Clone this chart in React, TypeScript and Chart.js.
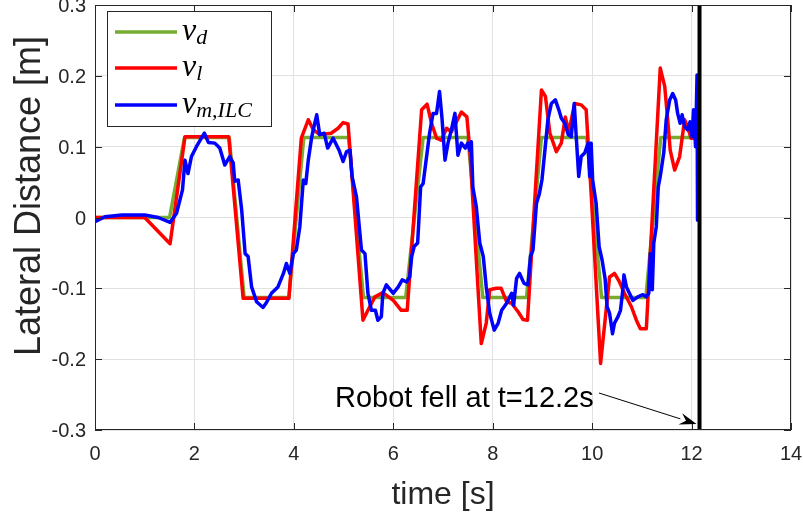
import React, { useEffect, useRef } from 'react';
import { Chart, registerables } from 'chart.js';

Chart.register(...registerables);

const xTickValues = [0, 2, 4, 6, 8, 10, 12, 14];
const yTickValues = [-0.3, -0.2, -0.1, 0, 0.1, 0.2, 0.3];

const vdTime = [0, 1.5, 1.8, 2.7, 3.0, 3.9, 4.2, 5.1, 5.4, 6.25, 6.6, 7.5, 7.8, 8.68, 8.98, 9.89, 10.19, 11.08, 11.38, 12.12];
const vdValue = [0, 0, 0.113, 0.113, -0.113, -0.113, 0.113, 0.113, -0.113, -0.113, 0.113, 0.113, -0.113, -0.113, 0.113, 0.113, -0.113, -0.113, 0.113, 0.113];

const vlTime = [0, 1.0, 1.51, 1.81, 2.69, 2.98, 3.9, 4.15, 4.29, 4.39, 4.52, 4.75, 4.89, 4.99, 5.09, 5.39, 5.49, 5.63, 5.79, 6.0, 6.16, 6.28, 6.57, 6.68, 6.77, 6.87, 6.97, 7.07, 7.17, 7.37, 7.48, 7.54, 7.77, 7.87, 7.94, 8.07, 8.17, 8.28, 8.38, 8.51, 8.61, 8.7, 8.98, 9.06, 9.15, 9.28, 9.38, 9.46, 9.53, 9.65, 9.78, 9.88, 9.98, 10.17, 10.35, 10.45, 10.55, 10.65, 10.79, 10.89, 10.97, 11.09, 11.37, 11.46, 11.52, 11.57, 11.66, 11.76, 11.86, 11.92, 11.99, 12.1];
const vlValue = [0, 0, -0.037, 0.114, 0.114, -0.114, -0.114, 0.112, 0.138, 0.124, 0.117, 0.119, 0.126, 0.134, 0.132, -0.145, -0.131, -0.112, -0.106, -0.117, -0.131, -0.131, 0.152, 0.16, 0.133, 0.112, 0.109, 0.126, 0.121, 0.149, 0.142, 0.095, -0.178, -0.149, -0.102, -0.1, -0.1, -0.119, -0.121, -0.133, -0.144, -0.145, 0.18, 0.171, 0.119, 0.093, 0.105, 0.142, 0.121, 0.161, 0.159, 0.152, 0.034, -0.206, -0.084, -0.079, -0.091, -0.107, -0.126, -0.145, -0.157, -0.157, 0.211, 0.185, 0.138, 0.095, 0.067, 0.086, 0.138, 0.128, 0.112, 0.112];

const vmTime = [0, 0.2, 0.54, 1.0, 1.27, 1.51, 1.64, 1.76, 1.81, 1.87, 1.94, 2.04, 2.14, 2.2, 2.28, 2.41, 2.51, 2.61, 2.71, 2.78, 2.81, 2.88, 2.95, 3.02, 3.08, 3.15, 3.25, 3.38, 3.45, 3.55, 3.68, 3.79, 3.85, 3.92, 3.99, 4.05, 4.12, 4.19, 4.24, 4.29, 4.36, 4.42, 4.46, 4.52, 4.61, 4.68, 4.79, 4.91, 4.99, 5.06, 5.13, 5.17, 5.26, 5.36, 5.43, 5.49, 5.56, 5.64, 5.69, 5.76, 5.79, 5.86, 6.0, 6.1, 6.18, 6.27, 6.33, 6.37, 6.42, 6.49, 6.55, 6.6, 6.67, 6.73, 6.8, 6.87, 6.93, 6.98, 7.04, 7.1, 7.17, 7.24, 7.3, 7.37, 7.45, 7.5, 7.54, 7.57, 7.6, 7.67, 7.74, 7.81, 7.87, 7.94, 8.03, 8.11, 8.18, 8.28, 8.38, 8.42, 8.48, 8.54, 8.63, 8.71, 8.76, 8.81, 8.88, 8.94, 8.99, 9.05, 9.11, 9.18, 9.26, 9.33, 9.38, 9.45, 9.52, 9.58, 9.64, 9.68, 9.73, 9.78, 9.85, 9.92, 9.95, 9.98, 10.01, 10.08, 10.14, 10.2, 10.26, 10.3, 10.35, 10.41, 10.45, 10.52, 10.57, 10.61, 10.64, 10.69, 10.75, 10.82, 10.92, 11.02, 11.09, 11.14, 11.17, 11.21, 11.24, 11.29, 11.33, 11.37, 11.44, 11.49, 11.56, 11.62, 11.68, 11.72, 11.77, 11.81, 11.86, 11.92, 11.97, 12.01, 12.04, 12.08, 12.11, 12.12];
const vmValue = [-0.006, 0.001, 0.0035, 0.0035, 0, -0.007, 0.006, 0.039, 0.081, 0.062, 0.086, 0.1, 0.112, 0.119, 0.106, 0.105, 0.098, 0.074, 0.086, 0.077, 0.051, 0.053, 0.011, -0.051, -0.055, -0.098, -0.119, -0.127, -0.12, -0.107, -0.098, -0.079, -0.065, -0.079, -0.051, -0.046, -0.013, 0.053, 0.048, 0.081, 0.114, 0.133, 0.145, 0.117, 0.119, 0.098, 0.112, 0.095, 0.079, 0.093, 0.095, 0.058, 0.029, -0.046, -0.051, -0.107, -0.131, -0.131, -0.145, -0.14, -0.107, -0.095, -0.107, -0.098, -0.088, -0.091, -0.084, -0.055, -0.041, -0.036, 0.043, 0.048, 0.086, 0.119, 0.147, 0.147, 0.178, 0.14, 0.081, 0.105, 0.124, 0.147, 0.088, 0.105, 0.098, 0.105, 0.095, 0.107, 0.043, 0.015, -0.036, -0.055, -0.098, -0.135, -0.159, -0.149, -0.131, -0.121, -0.107, -0.124, -0.086, -0.079, -0.093, -0.095, -0.055, -0.046, 0.02, 0.034, 0.053, 0.095, 0.138, 0.161, 0.166, 0.152, 0.14, 0.133, 0.117, 0.114, 0.161, 0.114, 0.058, 0.086, 0.091, 0.105, 0.058, 0.105, 0.053, 0.02, -0.041, -0.06, -0.086, -0.126, -0.135, -0.164, -0.149, -0.14, -0.131, -0.107, -0.081, -0.098, -0.107, -0.117, -0.112, -0.109, -0.112, -0.107, -0.051, -0.102, -0.036, -0.013, 0.043, 0.058, 0.091, 0.138, 0.166, 0.175, 0.166, 0.147, 0.133, 0.145, 0.128, 0.124, 0.135, 0.114, 0.152, 0.1, 0.201, -0.004];

const fallTime = 12.16;
const fallLineY = [-0.3, 0.3];

const seriesNames = ['v_d', 'v_l', 'v_m,ILC'];
const legendMain = ['v', 'v', 'v'];
const legendSub = ['d', 'l', 'm,ILC'];
const annotationText = 'Robot fell at t=12.2s';
const xTitle = 'time [s]';
const yTitle = 'Lateral Distance [m]';

const GREEN = '#77AC30';
const RED = '#FF0000';
const BLUE = '#0000FF';
const AXIS = '#262626';
const SANS = '"Liberation Sans", Arial, Helvetica, sans-serif';
const SERIF = '"Liberation Serif", "DejaVu Serif", serif';

const zip = (t: number[], v: number[]) => t.map((x, i) => ({ x, y: v[i] }));

const decorPlugin = {
  id: 'decor',
  afterDraw(chart: any) {
    const { ctx, chartArea, scales } = chart;
    const { left, right, top, bottom } = chartArea;
    const xs = scales.x;
    const ys = scales.y;
    ctx.save();
    ctx.strokeStyle = AXIS;
    ctx.lineWidth = 1;
    ctx.strokeRect(left + 0.5, top + 0.5, right - left - 1, bottom - top - 1);
    const tl = 7;
    ctx.beginPath();
    xTickValues.forEach((v) => {
      const px = Math.round(xs.getPixelForValue(v)) + 0.5;
      ctx.moveTo(px, bottom);
      ctx.lineTo(px, bottom - tl);
      ctx.moveTo(px, top);
      ctx.lineTo(px, top + tl);
    });
    yTickValues.forEach((v) => {
      const py = Math.round(ys.getPixelForValue(v)) + 0.5;
      ctx.moveTo(left, py);
      ctx.lineTo(left + tl, py);
      ctx.moveTo(right, py);
      ctx.lineTo(right - tl, py);
    });
    ctx.stroke();

    ctx.fillStyle = AXIS;
    ctx.font = `32px ${SANS}`;
    ctx.textAlign = 'center';
    ctx.textBaseline = 'alphabetic';
    ctx.fillText(xTitle, (left + right) / 2, 504);
    ctx.save();
    ctx.font = `36px ${SANS}`;
    ctx.translate(40, 196);
    ctx.rotate(-Math.PI / 2);
    ctx.fillText(yTitle, 0, 0);
    ctx.restore();

    const lx = 107, ly = 11, lw = 164, lh = 115;
    ctx.fillStyle = '#ffffff';
    ctx.fillRect(lx, ly, lw, lh);
    ctx.strokeStyle = AXIS;
    ctx.lineWidth = 1;
    ctx.strokeRect(lx + 0.5, ly + 0.5, lw, lh);
    const colors = [GREEN, RED, BLUE];
    const rows = [32, 68, 105];
    rows.forEach((ry, i) => {
      ctx.strokeStyle = colors[i];
      ctx.lineWidth = 3.5;
      ctx.beginPath();
      ctx.moveTo(115, ry);
      ctx.lineTo(177, ry);
      ctx.stroke();
      ctx.fillStyle = '#000';
      ctx.textAlign = 'left';
      ctx.textBaseline = 'alphabetic';
      ctx.font = `italic 32px ${SERIF}`;
      ctx.fillText(legendMain[i], 182, ry + 8);
      const w = ctx.measureText(legendMain[i]).width;
      ctx.font = `italic 22px ${SERIF}`;
      ctx.fillText(legendSub[i], 182 + w, ry + 12);
    });

    const tipX = xs.getPixelForValue(fallTime) - 3;
    const tipY = ys.getPixelForValue(-0.3) - 6;
    ctx.fillStyle = '#000';
    ctx.font = `29px ${SANS}`;
    ctx.textAlign = 'left';
    ctx.textBaseline = 'alphabetic';
    ctx.fillText(annotationText, 335, 407);
    const sx = 599, sy = 393;
    const ang = Math.atan2(tipY - sy, tipX - sx);
    const hl = 17, hw = 6;
    const bx = tipX - hl * Math.cos(ang), by = tipY - hl * Math.sin(ang);
    ctx.strokeStyle = '#000';
    ctx.lineWidth = 1;
    ctx.beginPath();
    ctx.moveTo(sx, sy);
    ctx.lineTo(bx, by);
    ctx.stroke();
    ctx.beginPath();
    ctx.moveTo(tipX, tipY);
    ctx.lineTo(bx + hw * Math.sin(ang), by - hw * Math.cos(ang));
    ctx.lineTo(bx + 0.35 * hl * Math.cos(ang), by + 0.35 * hl * Math.sin(ang));
    ctx.lineTo(bx - hw * Math.sin(ang), by + hw * Math.cos(ang));
    ctx.closePath();
    ctx.fill();
    ctx.restore();
  },
};

export default function App() {
  const ref = useRef<HTMLCanvasElement | null>(null);
  useEffect(() => {
    if (!ref.current) return;
    const chart = new Chart(ref.current, {
      type: 'line',
      data: {
        datasets: [
          { label: 'fall', data: zip([fallTime, fallTime], fallLineY), borderColor: '#000', borderWidth: 4, pointRadius: 0, order: -1 },
          { label: seriesNames[2], data: zip(vmTime, vmValue), borderColor: BLUE, borderWidth: 3.5, pointRadius: 0, order: 0 },
          { label: seriesNames[1], data: zip(vlTime, vlValue), borderColor: RED, borderWidth: 3.5, pointRadius: 0, order: 1 },
          { label: seriesNames[0], data: zip(vdTime, vdValue), borderColor: GREEN, borderWidth: 3.5, pointRadius: 0, order: 2 },
        ],
      },
      options: {
        animation: false,
        responsive: false,
        maintainAspectRatio: false,
        parsing: false as any,
        layout: { padding: { top: 5, right: 12, left: 0, bottom: 0 } },
        plugins: { legend: { display: false }, tooltip: { enabled: false }, title: { display: false } },
        elements: { line: { tension: 0, borderJoinStyle: 'round', borderCapStyle: 'round' } },
        scales: {
          x: {
            type: 'linear',
            min: 0,
            max: 14,
            afterBuildTicks: (s: any) => { s.ticks = xTickValues.map((v) => ({ value: v })); },
            afterFit: (s: any) => { s.height = 86; s.paddingLeft = 0; s.paddingRight = 0; },
            grid: { color: '#e1e1e1', drawTicks: false },
            border: { display: false },
            ticks: { color: AXIS, font: { family: SANS, size: 20 }, padding: 12, maxRotation: 0, callback: (v: any) => String(v) },
          },
          y: {
            type: 'linear',
            min: -0.3,
            max: 0.3,
            afterBuildTicks: (s: any) => { s.ticks = yTickValues.map((v) => ({ value: v })); },
            afterFit: (s: any) => { s.width = 95; s.paddingTop = 0; s.paddingBottom = 0; },
            grid: { color: '#e1e1e1', drawTicks: false },
            border: { display: false },
            ticks: { color: AXIS, font: { family: SANS, size: 20 }, padding: 9, labelOffset: 1.5, callback: (v: any) => String(Math.round(Number(v) * 10) / 10) },
          },
        },
      },
      plugins: [decorPlugin],
    });
    return () => chart.destroy();
  }, []);
  return (
    <div style={{ position: 'fixed', left: 0, top: 0, width: 803, height: 516, background: '#fff' }}>
      <canvas ref={ref} width={803} height={516} style={{ display: 'block', width: 803, height: 516 }} />
    </div>
  );
}
